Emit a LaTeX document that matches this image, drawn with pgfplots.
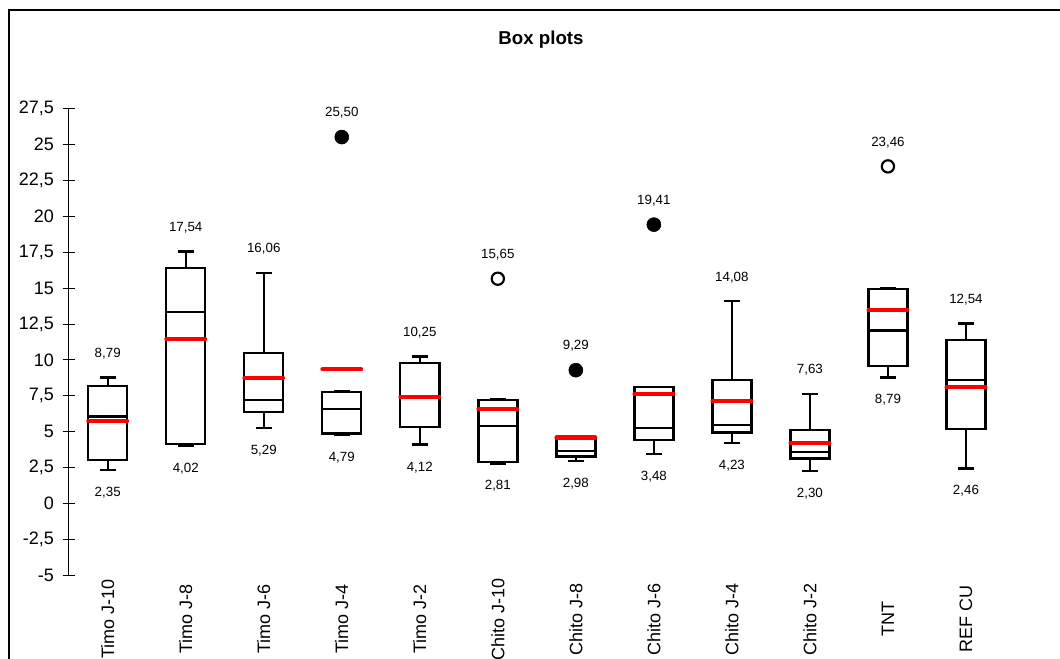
\documentclass[border=0pt]{standalone}
\usepackage{fontspec}
\setmainfont{Liberation Sans}
\usepackage{pgfplots}
\pgfplotsset{compat=1.18}
\usepgfplotslibrary{statistics}

\pgfplotstableread{
x y lab
0 8.79 8,79
1 17.54 17,54
2 16.06 16,06
3 25.50 25,50
4 10.25 10,25
5 15.65 15,65
6 9.29 9,29
7 19.41 19,41
8 14.08 14,08
9 7.63 7,63
10 23.46 23,46
11 12.54 12,54
}\maxtable

\pgfplotstableread{
x y lab
0 2.35 2,35
1 4.02 4,02
2 5.29 5,29
3 4.79 4,79
4 4.12 4,12
5 2.81 2,81
6 2.98 2,98
7 3.48 3,48
8 4.23 4,23
9 2.30 2,30
10 8.79 8,79
11 2.46 2,46
}\mintable

\begin{document}
\begin{tikzpicture}[x=0.75pt,y=0.75pt]
\path[use as bounding box, clip] (0,0) rectangle (1060,659);
\draw[line width=0.9pt] (9,-20) -- (9,649) -- (1100,649);
\node[font=\fontsize{14}{16}\selectfont\bfseries] at (541,619) {Box plots};
\begin{axis}[
  at={(51.525pt,62.475pt)}, anchor=south west,
  scale only axis, width=702.2pt, height=350.55pt,
  xmin=-0.5, xmax=11.5, ymin=-5, ymax=27.5,
  axis lines=left,
  axis line style={-, line width=0.75pt, black},
  x axis line style={draw=none},
  xtick={0,...,11},
  xticklabels={Timo J-10,Timo J-8,Timo J-6,Timo J-4,Timo J-2,Chito J-10,Chito J-8,Chito J-6,Chito J-4,Chito J-2,TNT,REF CU},
  xtick style={draw=none},
  ytick={-5,-2.5,...,27.5},
  ytick style={line width=0.75pt, black},
  major tick length=9pt,
  tick align=center,
  ticklabel style={font=\fontsize{13.5}{15}\selectfont},
  yticklabel style={xshift=-3pt},
  xticklabel style={yshift=-28pt, rotate=90, anchor=center},
  /pgf/number format/use comma,
  /pgf/number format/assume math mode=true,
  clip=false,
  boxplot/draw direction=y,
  boxplot/box extend=0.5,
  boxplot/whisker extend=0.2,
]
\pgfplotsset{every boxplot/.style={black, line width=1.8pt}}
\addplot[black, line width=1.8pt, boxplot prepared={draw position=0, lower whisker=2.35, lower quartile=3.05, median=6.08, upper quartile=8.19, upper whisker=8.79}] coordinates {};
\addplot[black, line width=1.8pt, boxplot prepared={draw position=1, lower whisker=4.02, lower quartile=4.16, median=13.34, upper quartile=16.40, upper whisker=17.54}] coordinates {};
\addplot[black, line width=1.8pt, boxplot prepared={draw position=2, lower whisker=5.29, lower quartile=6.38, median=7.20, upper quartile=10.47, upper whisker=16.06}] coordinates {};
\addplot[black, line width=1.8pt, boxplot prepared={draw position=3, lower whisker=4.79, lower quartile=4.88, median=6.61, upper quartile=7.77, upper whisker=7.80}] coordinates {};
\addplot[black, line width=1.8pt, boxplot prepared={draw position=4, lower whisker=4.12, lower quartile=5.34, median=7.45, upper quartile=9.81, upper whisker=10.25}] coordinates {};
\addplot[black, line width=1.8pt, boxplot prepared={draw position=5, lower whisker=2.81, lower quartile=2.89, median=5.41, upper quartile=7.22, upper whisker=7.25}] coordinates {};
\addplot[black, line width=1.8pt, boxplot prepared={draw position=6, lower whisker=2.98, lower quartile=3.28, median=3.69, upper quartile=4.52, upper whisker=4.55}] coordinates {};
\addplot[black, line width=1.8pt, boxplot prepared={draw position=7, lower whisker=3.48, lower quartile=4.44, median=5.25, upper quartile=8.10, upper whisker=8.12}] coordinates {};
\addplot[black, line width=1.8pt, boxplot prepared={draw position=8, lower whisker=4.23, lower quartile=4.95, median=5.48, upper quartile=8.61, upper whisker=14.08}] coordinates {};
\addplot[black, line width=1.8pt, boxplot prepared={draw position=9, lower whisker=2.30, lower quartile=3.16, median=3.62, upper quartile=5.15, upper whisker=7.63}] coordinates {};
\addplot[black, line width=1.8pt, boxplot prepared={draw position=10, lower whisker=8.79, lower quartile=9.60, median=12.05, upper quartile=14.94, upper whisker=14.97}] coordinates {};
\addplot[black, line width=1.8pt, boxplot prepared={draw position=11, lower whisker=2.46, lower quartile=5.22, median=8.61, upper quartile=11.39, upper whisker=12.54}] coordinates {};
% means
\addplot[only marks, mark=-, mark size=14.5pt, mark options={draw=red, line width=3.2pt, line cap=round}] coordinates {(0,5.74) (1,11.44) (2,8.73) (3,9.35) (4,7.45) (5,6.57) (6,4.60) (7,7.64) (8,7.13) (9,4.21) (10,13.48) (11,8.10)};
% outliers
\addplot[only marks, mark=*, mark size=5.25pt, black] coordinates {(3,25.50) (6,9.29) (7,19.41)};
\addplot[only marks, mark=o, mark size=4.6pt, mark options={line width=1.6pt, fill=white, draw=black}] coordinates {(5,15.65) (10,23.46)};
% labels
\addplot[only marks, mark=none, nodes near coords, point meta=explicit symbolic, nodes near coords style={anchor=center, yshift=18pt, font=\fontsize{10}{12}\selectfont, text=black}] table[x=x, y=y, meta=lab] {\maxtable};
\addplot[only marks, mark=none, nodes near coords, point meta=explicit symbolic, nodes near coords style={anchor=center, yshift=-17pt, font=\fontsize{10}{12}\selectfont, text=black}] table[x=x, y=y, meta=lab] {\mintable};
\end{axis}
\end{tikzpicture}
\end{document}
